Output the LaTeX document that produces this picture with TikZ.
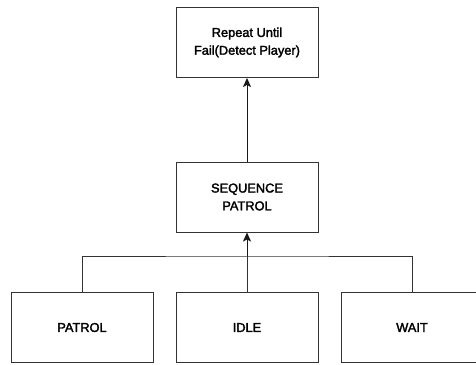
\documentclass[tikz,border=0pt]{standalone}
\usepackage{fontspec}
\setmainfont{Liberation Sans}
\newfontfamily\labelfont{Liberation Sans}[FakeBold=2.2]
\usetikzlibrary{arrows.meta}
\begin{document}
\begin{tikzpicture}[x=1pt,y=-1pt,
  box/.style={draw=black!80, line width=0.95pt, minimum width=142pt, minimum height=70pt,
    inner sep=0pt, align=center, font=\labelfont\fontsize{12.8}{17.8}\selectfont},
  link/.style={draw=black!80, line width=0.95pt},
  arr/.style={draw=black!90, line width=1pt, -{Stealth[length=9pt,width=8pt,inset=2pt]}}]
\useasboundingbox (0,0) rectangle (476,364);
\fill[white] (0,0) rectangle (476,364);
% tree nodes
\node[box] (root) at (247,42.5) {Repeat Until\\Fail(Detect Player)};
\node[box] (seq) at (247,197) {SEQUENCE\\PATROL};
\node[box] (patrol) at (82,327.5) {PATROL};
\node[box] (idle) at (247,327.5) {IDLE};
\node[box] (wait) at (412,327.5) {WAIT};
% bus joining the children
\coordinate (bus) at (247,256);
\draw[link] (patrol.north) |- (bus) -| (wait.north);
\draw[link] (idle.north) -- (bus);
% arrows up the tree
\draw[arr] (bus) -- (seq.south);
\draw[arr] (seq.north) -- (root.south);
\end{tikzpicture}
\end{document}
